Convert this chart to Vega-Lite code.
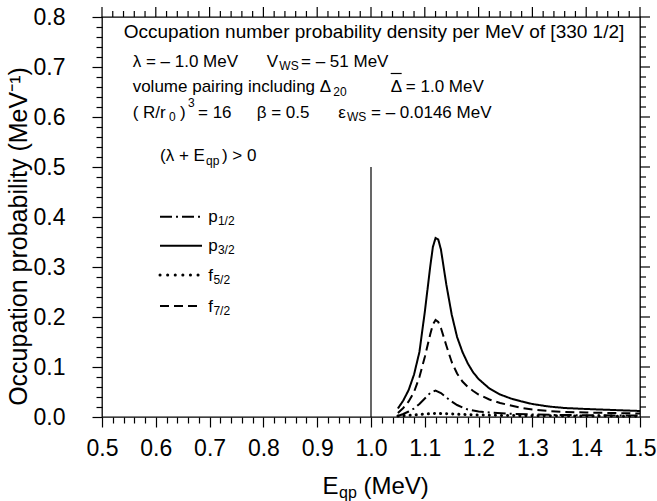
{
  "$schema": "https://vega.github.io/schema/vega-lite/v6.json",
  "autosize": "none",
  "width": 538,
  "height": 400,
  "padding": {"left": 102, "top": 17, "right": 17, "bottom": 84},
  "config": {
    "font": "Liberation Sans",
    "view": {"stroke": "#000", "strokeWidth": 1.3},
    "axis": {"domain": false, "grid": false, "tickColor": "#000", "tickWidth": 1.2, "labelColor": "#000", "titleColor": "#000", "labelFont": "Liberation Sans", "titleFont": "Liberation Sans"},
    "text": {"color": "#000"}
  },
  "datasets": {
    "curves": [
      {"E":1.05,"P":0.017,"s":"p3/2"},{"E":1.06,"P":0.033,"s":"p3/2"},{"E":1.07,"P":0.054,"s":"p3/2"},{"E":1.08,"P":0.085,"s":"p3/2"},{"E":1.09,"P":0.13,"s":"p3/2"},{"E":1.10,"P":0.21,"s":"p3/2"},{"E":1.105,"P":0.255,"s":"p3/2"},{"E":1.11,"P":0.30,"s":"p3/2"},{"E":1.115,"P":0.34,"s":"p3/2"},{"E":1.12,"P":0.358,"s":"p3/2"},{"E":1.125,"P":0.355,"s":"p3/2"},{"E":1.13,"P":0.335,"s":"p3/2"},{"E":1.14,"P":0.265,"s":"p3/2"},{"E":1.15,"P":0.205,"s":"p3/2"},{"E":1.16,"P":0.16,"s":"p3/2"},{"E":1.17,"P":0.13,"s":"p3/2"},{"E":1.18,"P":0.107,"s":"p3/2"},{"E":1.19,"P":0.089,"s":"p3/2"},{"E":1.20,"P":0.076,"s":"p3/2"},{"E":1.22,"P":0.057,"s":"p3/2"},{"E":1.24,"P":0.045,"s":"p3/2"},{"E":1.26,"P":0.037,"s":"p3/2"},{"E":1.28,"P":0.031,"s":"p3/2"},{"E":1.30,"P":0.026,"s":"p3/2"},{"E":1.33,"P":0.021,"s":"p3/2"},{"E":1.36,"P":0.018,"s":"p3/2"},{"E":1.40,"P":0.016,"s":"p3/2"},{"E":1.45,"P":0.014,"s":"p3/2"},{"E":1.50,"P":0.012,"s":"p3/2"},
      {"E":1.05,"P":0.008,"s":"f7/2"},{"E":1.06,"P":0.018,"s":"f7/2"},{"E":1.07,"P":0.031,"s":"f7/2"},{"E":1.08,"P":0.05,"s":"f7/2"},{"E":1.09,"P":0.08,"s":"f7/2"},{"E":1.10,"P":0.12,"s":"f7/2"},{"E":1.11,"P":0.165,"s":"f7/2"},{"E":1.115,"P":0.185,"s":"f7/2"},{"E":1.12,"P":0.194,"s":"f7/2"},{"E":1.125,"P":0.19,"s":"f7/2"},{"E":1.13,"P":0.178,"s":"f7/2"},{"E":1.14,"P":0.143,"s":"f7/2"},{"E":1.15,"P":0.11,"s":"f7/2"},{"E":1.16,"P":0.087,"s":"f7/2"},{"E":1.17,"P":0.071,"s":"f7/2"},{"E":1.18,"P":0.06,"s":"f7/2"},{"E":1.19,"P":0.052,"s":"f7/2"},{"E":1.20,"P":0.045,"s":"f7/2"},{"E":1.22,"P":0.035,"s":"f7/2"},{"E":1.24,"P":0.028,"s":"f7/2"},{"E":1.26,"P":0.023,"s":"f7/2"},{"E":1.28,"P":0.018,"s":"f7/2"},{"E":1.30,"P":0.015,"s":"f7/2"},{"E":1.33,"P":0.012,"s":"f7/2"},{"E":1.36,"P":0.010,"s":"f7/2"},{"E":1.40,"P":0.009,"s":"f7/2"},{"E":1.45,"P":0.008,"s":"f7/2"},{"E":1.50,"P":0.007,"s":"f7/2"},
      {"E":1.05,"P":0.002,"s":"p1/2"},{"E":1.06,"P":0.006,"s":"p1/2"},{"E":1.07,"P":0.011,"s":"p1/2"},{"E":1.08,"P":0.017,"s":"p1/2"},{"E":1.09,"P":0.026,"s":"p1/2"},{"E":1.10,"P":0.037,"s":"p1/2"},{"E":1.11,"P":0.048,"s":"p1/2"},{"E":1.12,"P":0.053,"s":"p1/2"},{"E":1.13,"P":0.048,"s":"p1/2"},{"E":1.14,"P":0.039,"s":"p1/2"},{"E":1.15,"P":0.031,"s":"p1/2"},{"E":1.16,"P":0.024,"s":"p1/2"},{"E":1.17,"P":0.019,"s":"p1/2"},{"E":1.18,"P":0.015,"s":"p1/2"},{"E":1.19,"P":0.013,"s":"p1/2"},{"E":1.20,"P":0.011,"s":"p1/2"},{"E":1.22,"P":0.009,"s":"p1/2"},{"E":1.25,"P":0.007,"s":"p1/2"},{"E":1.30,"P":0.005,"s":"p1/2"},{"E":1.35,"P":0.004,"s":"p1/2"},{"E":1.40,"P":0.0035,"s":"p1/2"},{"E":1.50,"P":0.003,"s":"p1/2"},
      {"E":1.05,"P":0.002,"s":"f5/2"},{"E":1.08,"P":0.004,"s":"f5/2"},{"E":1.10,"P":0.006,"s":"f5/2"},{"E":1.12,"P":0.007,"s":"f5/2"},{"E":1.14,"P":0.0065,"s":"f5/2"},{"E":1.17,"P":0.005,"s":"f5/2"},{"E":1.20,"P":0.004,"s":"f5/2"},{"E":1.25,"P":0.003,"s":"f5/2"},{"E":1.30,"P":0.0025,"s":"f5/2"},{"E":1.40,"P":0.002,"s":"f5/2"},{"E":1.50,"P":0.0015,"s":"f5/2"}
    ],
    "legendLines": [
      {"x": 0.6078, "x2": 0.6859, "y": 0.4006, "s": "p1/2"},
      {"x": 0.6078, "x2": 0.6859, "y": 0.3426, "s": "p3/2"},
      {"x": 0.6078, "x2": 0.6859, "y": 0.284, "s": "f5/2"},
      {"x": 0.6078, "x2": 0.6859, "y": 0.222, "s": "f7/2"}
    ],
    "xMajor": [{"v":0.5},{"v":0.6},{"v":0.7},{"v":0.8},{"v":0.9},{"v":1.0},{"v":1.1},{"v":1.2},{"v":1.3},{"v":1.4},{"v":1.5}],
    "xMinor": [{"v":0.52},{"v":0.54},{"v":0.56},{"v":0.58},{"v":0.62},{"v":0.64},{"v":0.66},{"v":0.68},{"v":0.72},{"v":0.74},{"v":0.76},{"v":0.78},{"v":0.82},{"v":0.84},{"v":0.86},{"v":0.88},{"v":0.92},{"v":0.94},{"v":0.96},{"v":0.98},{"v":1.02},{"v":1.04},{"v":1.06},{"v":1.08},{"v":1.12},{"v":1.14},{"v":1.16},{"v":1.18},{"v":1.22},{"v":1.24},{"v":1.26},{"v":1.28},{"v":1.32},{"v":1.34},{"v":1.36},{"v":1.38},{"v":1.42},{"v":1.44},{"v":1.46},{"v":1.48}],
    "yMajor": [{"v":0},{"v":0.1},{"v":0.2},{"v":0.3},{"v":0.4},{"v":0.5},{"v":0.6},{"v":0.7},{"v":0.8}],
    "yMinor": [{"v":0.02},{"v":0.04},{"v":0.06},{"v":0.08},{"v":0.12},{"v":0.14},{"v":0.16},{"v":0.18},{"v":0.22},{"v":0.24},{"v":0.26},{"v":0.28},{"v":0.32},{"v":0.34},{"v":0.36},{"v":0.38},{"v":0.42},{"v":0.44},{"v":0.46},{"v":0.48},{"v":0.52},{"v":0.54},{"v":0.56},{"v":0.58},{"v":0.62},{"v":0.64},{"v":0.66},{"v":0.68},{"v":0.72},{"v":0.74},{"v":0.76},{"v":0.78}],
    "texts": [
      {"t": "λ = – 1.0 MeV", "x": 0.557, "y": 0.7006, "r": "main"},
      {"t": "V", "x": 0.806, "y": 0.7006, "r": "main"},
      {"t": "WS", "x": 0.8296, "y": 0.694, "r": "sub"},
      {"t": "= – 51 MeV", "x": 0.8699, "y": 0.7006, "r": "main"},
      {"t": "volume pairing including Δ", "x": 0.557, "y": 0.6494, "r": "main"},
      {"t": "20", "x": 0.9298, "y": 0.643, "r": "sub"},
      {"t": "Δ = 1.0 MeV", "x": 1.0366, "y": 0.6494, "r": "main"},
      {"t": "( R/r", "x": 0.557, "y": 0.5986, "r": "main"},
      {"t": "0", "x": 0.6245, "y": 0.592, "r": "sub"},
      {"t": ")", "x": 0.645, "y": 0.5986, "r": "main"},
      {"t": "3", "x": 0.6599, "y": 0.6206, "r": "sub"},
      {"t": "= 16", "x": 0.6784, "y": 0.5986, "r": "main"},
      {"t": "β = 0.5", "x": 0.7875, "y": 0.5986, "r": "main"},
      {"t": "ε", "x": 0.9392, "y": 0.5986, "r": "main"},
      {"t": "WS", "x": 0.9554, "y": 0.592, "r": "sub"},
      {"t": "= – 0.0146 MeV", "x": 1.0, "y": 0.5986, "r": "main"},
      {"t": "(λ + E", "x": 0.6078, "y": 0.512, "r": "main"},
      {"t": "qp", "x": 0.6933, "y": 0.505, "r": "sub"},
      {"t": ") > 0", "x": 0.723, "y": 0.512, "r": "main"},
      {"t": "p", "x": 0.6976, "y": 0.3906, "r": "main"},
      {"t": "1/2", "x": 0.7155, "y": 0.3846, "r": "sub"},
      {"t": "p", "x": 0.6976, "y": 0.3326, "r": "main"},
      {"t": "3/2", "x": 0.7155, "y": 0.3266, "r": "sub"},
      {"t": "f", "x": 0.6976, "y": 0.272, "r": "main"},
      {"t": "5/2", "x": 0.7071, "y": 0.266, "r": "sub"},
      {"t": "f", "x": 0.6976, "y": 0.210, "r": "main"},
      {"t": "7/2", "x": 0.7071, "y": 0.204, "r": "sub"},
      {"t": "E", "x": 0.9097, "y": -0.154, "r": "axis"},
      {"t": "qp", "x": 0.9405, "y": -0.162, "r": "axsub"},
      {"t": "(MeV)", "x": 0.986, "y": -0.154, "r": "axis"}
    ]
  },
  "resolve": {"axis": {"x": "independent", "y": "independent"}},
  "layer": [
    {
      "data": {"name": "curves"},
      "transform": [{"filter": "datum.s != 'f5/2'"}],
      "mark": {"type": "line", "color": "#000", "strokeWidth": 2},
      "encoding": {
        "x": {"field": "E", "type": "quantitative", "scale": {"domain": [0.5, 1.5], "nice": false, "zero": false},
          "axis": {"orient": "bottom", "values": [0.5,0.52,0.54,0.56,0.58,0.6,0.62,0.64,0.66,0.68,0.7,0.72,0.74,0.76,0.78,0.8,0.82,0.84,0.86,0.88,0.9,0.92,0.94,0.96,0.98,1.0,1.02,1.04,1.06,1.08,1.1,1.12,1.14,1.16,1.18,1.2,1.22,1.24,1.26,1.28,1.3,1.32,1.34,1.36,1.38,1.4,1.42,1.44,1.46,1.48,1.5],
            "labelExpr": "abs(datum.value*10 - round(datum.value*10)) < 0.001 ? format(datum.value, '.1f') : ''",
            "tickSize": {"condition": {"test": "abs(datum.value*10 - round(datum.value*10)) < 0.001", "value": 10}, "value": 6},
            "labelOverlap": false, "labelFontSize": 23, "labelPadding": 10, "title": null, "labelFlush": false}},
        "y": {"field": "P", "type": "quantitative", "scale": {"domain": [0, 0.8], "nice": false, "zero": false},
          "axis": {"orient": "left", "values": [0,0.02,0.04,0.06,0.08,0.1,0.12,0.14,0.16,0.18,0.2,0.22,0.24,0.26,0.28,0.3,0.32,0.34,0.36,0.38,0.4,0.42,0.44,0.46,0.48,0.5,0.52,0.54,0.56,0.58,0.6,0.62,0.64,0.66,0.68,0.7,0.72,0.74,0.76,0.78,0.8],
            "labelExpr": "abs(datum.value*10 - round(datum.value*10)) < 0.001 ? format(datum.value, '.1f') : ''",
            "tickSize": {"condition": {"test": "abs(datum.value*10 - round(datum.value*10)) < 0.001", "value": 10}, "value": 6},
            "labelOverlap": false, "labelFontSize": 23, "labelPadding": 27, "labelFlush": false,
            "title": "Occupation probability (MeV⁻¹)", "titleFontSize": 25, "titleFontWeight": "normal", "titleAngle": 270, "titleX": -76, "titleY": 219, "titleBaseline": "alphabetic", "titleAlign": "center"}},
        "strokeDash": {"field": "s", "type": "nominal", "legend": null,
          "scale": {"domain": ["p1/2", "p3/2", "f7/2"], "range": [[12, 4, 2, 4], [1, 0], [9, 5]]}}
      }
    },
    {
      "data": {"values": [
        {"x": 1.0, "x2": 1.0, "y": 0, "y2": 0.5},
        {"x": 1.0366, "x2": 1.057, "y": 0.687, "y2": 0.687}
      ]},
      "mark": {"type": "rule", "color": "#000", "strokeWidth": 1.2},
      "encoding": {
        "x": {"field": "x", "type": "quantitative", "axis": null},
        "x2": {"field": "x2"},
        "y": {"field": "y", "type": "quantitative", "axis": null},
        "y2": {"field": "y2"}
      }
    },
    {
      "data": {"name": "xMajor"},
      "mark": {"type": "tick", "orient": "vertical", "color": "#000", "size": 10, "thickness": 1.2, "yOffset": -5, "clip": false, "opacity": 1},
      "encoding": {
        "x": {"field": "v", "type": "quantitative", "axis": null},
        "y": {"datum": 0.8, "type": "quantitative", "axis": null}
      }
    },
    {
      "data": {"name": "xMinor"},
      "mark": {"type": "tick", "orient": "vertical", "color": "#000", "size": 6, "thickness": 1.2, "yOffset": -3, "clip": false, "opacity": 1},
      "encoding": {
        "x": {"field": "v", "type": "quantitative", "axis": null},
        "y": {"datum": 0.8, "type": "quantitative", "axis": null}
      }
    },
    {
      "data": {"name": "yMajor"},
      "mark": {"type": "tick", "orient": "horizontal", "color": "#000", "size": 10, "thickness": 1.2, "xOffset": 5, "clip": false, "opacity": 1},
      "encoding": {
        "y": {"field": "v", "type": "quantitative", "axis": null},
        "x": {"datum": 1.5, "type": "quantitative", "axis": null}
      }
    },
    {
      "data": {"name": "yMinor"},
      "mark": {"type": "tick", "orient": "horizontal", "color": "#000", "size": 6, "thickness": 1.2, "xOffset": 3, "clip": false, "opacity": 1},
      "encoding": {
        "y": {"field": "v", "type": "quantitative", "axis": null},
        "x": {"datum": 1.5, "type": "quantitative", "axis": null}
      }
    },
    {
      "data": {"name": "legendLines"},
      "transform": [{"filter": "datum.s != 'f5/2'"}],
      "mark": {"type": "rule", "color": "#000", "strokeWidth": 2},
      "encoding": {
        "x": {"field": "x", "type": "quantitative", "axis": null},
        "x2": {"field": "x2"},
        "y": {"field": "y", "type": "quantitative", "axis": null},
        "strokeDash": {"field": "s", "type": "nominal", "legend": null}
      }
    },
    {
      "data": {"name": "curves"},
      "transform": [{"filter": "datum.s == 'f5/2'"}],
      "mark": {"type": "line", "color": "#000", "strokeWidth": 3, "strokeCap": "round", "strokeDash": [0.1, 6]},
      "encoding": {
        "x": {"field": "E", "type": "quantitative", "axis": null},
        "y": {"field": "P", "type": "quantitative", "axis": null}
      }
    },
    {
      "data": {"name": "legendLines"},
      "transform": [{"filter": "datum.s == 'f5/2'"}],
      "mark": {"type": "rule", "color": "#000", "strokeWidth": 3, "strokeCap": "round", "strokeDash": [0.1, 7.5]},
      "encoding": {
        "x": {"field": "x", "type": "quantitative", "axis": null},
        "x2": {"field": "x2"},
        "y": {"field": "y", "type": "quantitative", "axis": null}
      }
    },
    {
      "data": {"name": "texts"},
      "transform": [{"filter": "datum.r == 'main'"}],
      "mark": {"type": "text", "align": "left", "baseline": "alphabetic", "fontSize": 17, "color": "#000"},
      "encoding": {
        "x": {"field": "x", "type": "quantitative", "axis": null},
        "y": {"field": "y", "type": "quantitative", "axis": null},
        "text": {"field": "t"}
      }
    },
    {
      "data": {"name": "texts"},
      "transform": [{"filter": "datum.r == 'sub'"}],
      "mark": {"type": "text", "align": "left", "baseline": "alphabetic", "fontSize": 12, "color": "#000"},
      "encoding": {
        "x": {"field": "x", "type": "quantitative", "axis": null},
        "y": {"field": "y", "type": "quantitative", "axis": null},
        "text": {"field": "t"}
      }
    },
    {
      "data": {"name": "texts"},
      "transform": [{"filter": "datum.r == 'axis'"}],
      "mark": {"type": "text", "align": "left", "baseline": "alphabetic", "fontSize": 24, "color": "#000"},
      "encoding": {
        "x": {"field": "x", "type": "quantitative", "axis": null},
        "y": {"field": "y", "type": "quantitative", "axis": null},
        "text": {"field": "t"}
      }
    },
    {
      "data": {"name": "texts"},
      "transform": [{"filter": "datum.r == 'axsub'"}],
      "mark": {"type": "text", "align": "left", "baseline": "alphabetic", "fontSize": 16, "color": "#000"},
      "encoding": {
        "x": {"field": "x", "type": "quantitative", "axis": null},
        "y": {"field": "y", "type": "quantitative", "axis": null},
        "text": {"field": "t"}
      }
    },
    {
      "data": {"values": [
        {"t": "Occupation number probability density per MeV of [330 1/2]", "x": 1.0056, "y": 0.759}
      ]},
      "mark": {"type": "text", "align": "center", "baseline": "alphabetic", "fontSize": 19, "color": "#000"},
      "encoding": {
        "x": {"field": "x", "type": "quantitative", "axis": null},
        "y": {"field": "y", "type": "quantitative", "axis": null},
        "text": {"field": "t"}
      }
    }
  ]
}
